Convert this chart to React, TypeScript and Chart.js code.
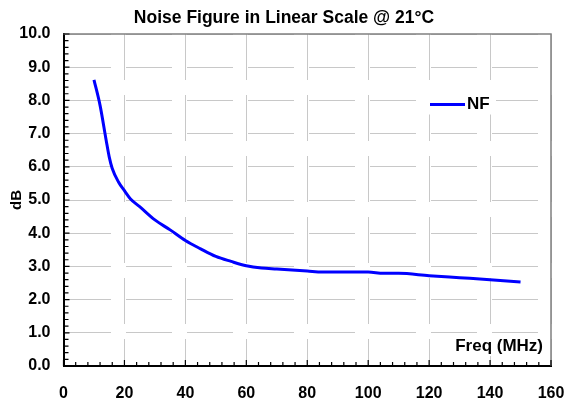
import { useEffect, useRef } from "react";
import { Chart, ChartConfiguration, Plugin } from "chart.js/auto";

const FONT = "'Liberation Sans', Arial, sans-serif";

const freqMHz = [10, 12, 14, 15, 16, 18, 20, 22, 25, 30, 35, 40, 45, 50, 55, 60, 65, 70, 80, 85, 90, 100, 105, 110, 120, 130, 140, 150];
const nfDb = [8.62, 7.85, 6.8, 6.3, 5.95, 5.55, 5.28, 5.03, 4.8, 4.4, 4.1, 3.78, 3.53, 3.3, 3.15, 3.02, 2.95, 2.92, 2.86, 2.83, 2.83, 2.83, 2.79, 2.79, 2.72, 2.66, 2.6, 2.53];

const seriesLabel = "NF";
const titleText = "Noise Figure in Linear Scale @ 21°C";
const xTitle = "Freq (MHz)";
const yTitle = "dB";

// minor ticks inside the plot, grey frame on top/right, legend and x title inside the plot
const decorations: Plugin = {
  id: "decorations",
  afterDraw(chart) {
    const { ctx, chartArea } = chart;
    const { left, right, top, bottom } = chartArea;
    const xs = chart.scales.x;
    const ys = chart.scales.y;

    ctx.save();
    // grey frame
    ctx.strokeStyle = "#808080";
    ctx.lineWidth = 1.5;
    ctx.beginPath();
    ctx.moveTo(left, top);
    ctx.lineTo(right, top);
    ctx.lineTo(right, bottom);
    ctx.stroke();

    // ticks
    ctx.strokeStyle = "#000";
    ctx.lineWidth = 1.2;
    ctx.beginPath();
    for (let i = 0; i <= 40; i++) {
      const px = xs.getPixelForValue(i * 4);
      const len = i % 5 === 0 ? 6 : 4;
      ctx.moveTo(px, bottom);
      ctx.lineTo(px, bottom - len);
    }
    for (let i = 0; i <= 50; i++) {
      const py = ys.getPixelForValue(i * 0.2);
      const len = i % 5 === 0 ? 6 : 5;
      ctx.moveTo(left, py);
      ctx.lineTo(left + len, py);
    }
    ctx.stroke();

    // legend
    const ds = chart.data.datasets[0];
    const lx = left + 366.5;
    const ly = top + 70.5;
    ctx.fillStyle = "#fff";
    ctx.fillRect(lx - 4, ly - 10, 70, 20);
    ctx.strokeStyle = ds.borderColor as string;
    ctx.lineWidth = 3;
    ctx.beginPath();
    ctx.moveTo(lx, ly);
    ctx.lineTo(lx + 35, ly);
    ctx.stroke();
    ctx.fillStyle = "#000";
    ctx.font = `bold 17px ${FONT}`;
    ctx.textAlign = "left";
    ctx.textBaseline = "middle";
    ctx.fillText(ds.label as string, lx + 37, ly);

    // x axis title inside the plot
    const tw = ctx.measureText(xTitle).width;
    const tx = right - 8;
    const ty = bottom - 20;
    ctx.fillStyle = "#fff";
    ctx.fillRect(tx - tw - 2, ty - 10, tw + 4, 20);
    ctx.fillStyle = "#000";
    ctx.textAlign = "right";
    ctx.fillText(xTitle, tx, ty);
    ctx.restore();
  },
};

export default function App() {
  const canvasRef = useRef<HTMLCanvasElement>(null);
  const chartRef = useRef<Chart | null>(null);

  useEffect(() => {
    document.body.style.margin = "0";
    if (!canvasRef.current) return;
    if (chartRef.current) chartRef.current.destroy();

    const config: ChartConfiguration = {
      type: "line",
      data: {
        datasets: [
          {
            label: seriesLabel,
            data: freqMHz.map((f, i) => ({ x: f, y: nfDb[i] })),
            borderColor: "#0000ff",
            borderWidth: 3,
            pointRadius: 0,
            fill: false,
            cubicInterpolationMode: "monotone",
          },
        ],
      },
      options: {
        responsive: false,
        animation: false,
        layout: { padding: { left: 17, right: 13, top: 0, bottom: 0 } },
        plugins: {
          legend: { display: false },
          tooltip: { enabled: false },
          title: {
            display: true,
            text: titleText,
            color: "#000",
            font: { family: FONT, size: 17.5, weight: "bold" },
            padding: { top: 7.5, bottom: 5.5 },
          },
        },
        scales: {
          x: {
            type: "linear",
            min: 0,
            max: 160,
            ticks: {
              stepSize: 20,
              color: "#000",
              font: { family: FONT, size: 16, weight: "bold" },
              padding: 18,
              maxRotation: 0,
            },
            grid: { color: "#c8c8c8", lineWidth: 1, drawTicks: false },
            border: { color: "#000", width: 2, dash: [46, 15] },
            afterFit(scale) {
              scale.height = 35;
              scale.paddingLeft = 0;
              scale.paddingRight = 0;
            },
          },
          y: {
            min: 0,
            max: 10,
            ticks: {
              stepSize: 1,
              color: "#000",
              font: { family: FONT, size: 16, weight: "bold" },
              padding: 13,
              callback: (v) => Number(v).toFixed(1),
            },
            grid: { color: "#c8c8c8", lineWidth: 1, drawTicks: false },
            border: { color: "#000", width: 2, dash: [46, 15] },
            title: {
              display: true,
              text: yTitle,
              color: "#000",
              font: { family: FONT, size: 15, weight: "bold" },
              padding: { top: -9, bottom: 0 },
            },
            afterFit(scale) {
              scale.width = 46.5;
              scale.paddingTop = 0;
              scale.paddingBottom = 0;
            },
          },
        },
      },
      plugins: [decorations],
    };

    chartRef.current = new Chart(canvasRef.current, config);
    return () => {
      if (chartRef.current) {
        chartRef.current.destroy();
        chartRef.current = null;
      }
    };
  }, []);

  return (
    <div style={{ width: 564, height: 401, background: "#fff" }}>
      <canvas ref={canvasRef} width={564} height={401} />
    </div>
  );
}
